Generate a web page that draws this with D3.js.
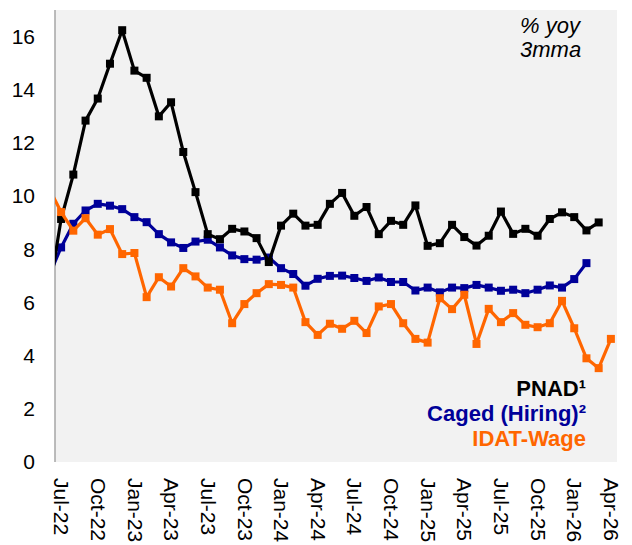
<!DOCTYPE html>
<html>
<head>
<meta charset="utf-8">
<script src="https://cdn.jsdelivr.net/npm/d3@7"></script>
<style>
  body { margin: 0; background: #fff; }
  text { font-family: "Liberation Sans", Arial, sans-serif; }
</style>
</head>
<body>
<div class="chart"></div>
<script>
// DATA ------------------------------------
// Jun-22 .. Apr-26 (first month sits just outside the plot, line gets clipped)
const months = ["Jun-22","Jul-22","Aug-22","Sep-22","Oct-22","Nov-22","Dec-22",
  "Jan-23","Feb-23","Mar-23","Apr-23","May-23","Jun-23","Jul-23","Aug-23","Sep-23","Oct-23","Nov-23","Dec-23",
  "Jan-24","Feb-24","Mar-24","Apr-24","May-24","Jun-24","Jul-24","Aug-24","Sep-24","Oct-24","Nov-24","Dec-24",
  "Jan-25","Feb-25","Mar-25","Apr-25","May-25","Jun-25","Jul-25","Aug-25","Sep-25","Oct-25","Nov-25","Dec-25",
  "Jan-26","Feb-26","Mar-26","Apr-26"];

const xTickLabels = ["Jul-22","Oct-22","Jan-23","Apr-23","Jul-23","Oct-23","Jan-24","Apr-24",
  "Jul-24","Oct-24","Jan-25","Apr-25","Jul-25","Oct-25","Jan-26","Apr-26"];

const yTicks = [0, 2, 4, 6, 8, 10, 12, 14, 16];

const pnad = [6.3, 9.14, 10.81, 12.84, 13.67, 14.98, 16.24, 14.72, 14.45, 13.0, 13.53, 11.66, 10.15,
  8.57, 8.38, 8.77, 8.67, 8.42, 7.52, 8.89, 9.34, 8.89, 8.92, 9.71, 10.12, 9.26, 9.59, 8.57, 9.07,
  8.92, 9.65, 8.13, 8.23, 8.92, 8.46, 8.14, 8.51, 9.42, 8.58, 8.77, 8.51, 9.14, 9.39, 9.21, 8.71, 9.01, null];

const caged = [7.0, 8.07, 8.96, 9.46, 9.71, 9.64, 9.51, 9.21, 9.02, 8.57, 8.26, 8.05, 8.29,
  8.36, 8.07, 7.77, 7.63, 7.61, 7.69, 7.29, 7.07, 6.63, 6.89, 7.0, 7.01, 6.92, 6.81, 6.94, 6.77,
  6.77, 6.45, 6.56, 6.38, 6.56, 6.54, 6.66, 6.56, 6.44, 6.48, 6.35, 6.48, 6.64, 6.56, 6.88, 7.48, null, null];

const idat = [10.3, 9.40, 8.70, 9.17, 8.55, 8.76, 7.82, 7.86, 6.20, 6.95, 6.60, 7.29, 6.98,
  6.56, 6.48, 5.22, 5.94, 6.35, 6.69, 6.66, 6.56, 5.26, 4.78, 5.20, 5.01, 5.31, 4.85, 5.85, 5.94,
  5.22, 4.63, 4.49, 6.16, 5.75, 6.29, 4.44, 5.76, 5.26, 5.60, 5.16, 5.07, 5.22, 6.06, 5.03, 3.90, 3.53, 4.63];

// CHART INIT ------------------------------
var margin = {top: 10, right: 15, bottom: 83, left: 55};
var width = 632 - margin.left - margin.right,
    height = 545 - margin.top - margin.bottom;

const svg = d3.select(".chart").append("svg")
    .attr("width", 632)
    .attr("height", 545)
  .append("g")
    .attr("transform", "translate(" + margin.left + "," + margin.top + ")");

// month index: Jul-22 = 0, Jun-22 = -1
const xScale = d3.scaleLinear()
    .domain([-0.5, 45.5])
    .range([0, width]);

const yScale = d3.scaleLinear()
    .domain([0, 17])
    .range([height, 0]);

svg.append("rect")
    .attr("width", width)
    .attr("height", height)
    .attr("fill", "#f2f2f2");

svg.append("clipPath")
    .attr("id", "plot-clip")
  .append("rect")
    .attr("width", width)
    .attr("height", height);

// axes
const yAxis = svg.append("g")
    .attr("class", "axis y-axis")
    .call(d3.axisLeft(yScale).tickValues(yTicks).tickSize(0).tickPadding(20));
yAxis.select(".domain").remove();
yAxis.selectAll("text")
    .attr("font-size", 21)
    .attr("font-family", "Liberation Sans, Arial, sans-serif")
    .attr("fill", "#000");

svg.append("line")
    .attr("x1", 0).attr("x2", 0)
    .attr("y1", 0).attr("y2", height)
    .attr("stroke", "#a6a6a6")
    .attr("stroke-width", 1.5);

const xAxis = svg.append("g")
    .attr("class", "axis x-axis")
    .attr("transform", "translate(0," + height + ")")
    .call(d3.axisBottom(xScale)
        .tickValues(xTickLabels.map(l => months.indexOf(l) - 1))
        .tickFormat(i => months[i + 1])
        .tickSize(0));
xAxis.select(".domain").remove();
xAxis.selectAll("text")
    .attr("font-size", 21)
    .attr("font-family", "Liberation Sans, Arial, sans-serif")
    .attr("fill", "#000")
    .attr("transform", "rotate(90)")
    .attr("x", 16)
    .attr("y", 0)
    .attr("dy", "0.35em")
    .style("text-anchor", "start");

// SERIES ----------------------------------
const series = [
    {name: "caged", values: caged, color: "#000099"},
    {name: "pnad", values: pnad, color: "#000000"},
    {name: "idat", values: idat, color: "#ff6600"}
];

const line = d3.line()
    .defined(d => d.v != null)
    .x(d => xScale(d.i))
    .y(d => yScale(d.v));

const plot = svg.append("g").attr("clip-path", "url(#plot-clip)");

series.forEach(s => {
    const pts = s.values.map((v, k) => ({i: k - 1, v: v}));
    plot.append("path")
        .datum(pts)
        .attr("fill", "none")
        .attr("stroke", s.color)
        .attr("stroke-width", 3.2)
        .attr("stroke-linejoin", "round")
        .attr("d", line);
    plot.selectAll(".m-" + s.name)
        .data(pts.filter(d => d.v != null))
        .enter()
        .append("rect")
        .attr("class", "m-" + s.name)
        .attr("x", d => xScale(d.i) - 4)
        .attr("y", d => yScale(d.v) - 4)
        .attr("width", 8)
        .attr("height", 8)
        .attr("fill", s.color);
});

// LABELS ----------------------------------
const note = svg.append("text")
    .attr("x", 465)
    .attr("y", 23)
    .attr("font-size", 22)
    .attr("font-style", "italic")
    .attr("fill", "#000");
note.append("tspan").attr("x", 465).text("% yoy");
note.append("tspan").attr("x", 465).attr("dy", 23.5).text("3mma");

const legend = [
    {text: "PNAD\u00b9", color: "#000000"},
    {text: "Caged (Hiring)\u00b2", color: "#000099"},
    {text: "IDAT-Wage", color: "#ff6600"}
];
svg.selectAll(".legend")
    .data(legend)
    .enter()
    .append("text")
    .attr("class", "legend")
    .attr("x", 531)
    .attr("y", (d, k) => 386 + k * 25)
    .attr("text-anchor", "end")
    .attr("font-size", 22)
    .attr("font-weight", "bold")
    .attr("fill", d => d.color)
    .text(d => d.text);
</script>
</body>
</html>
